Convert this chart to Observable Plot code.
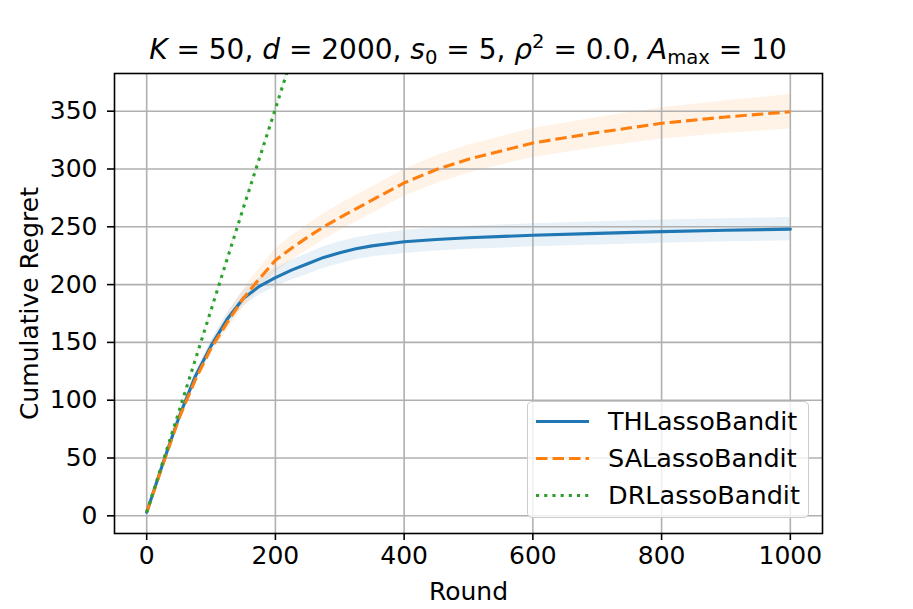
<!DOCTYPE html>
<html><head><meta charset="utf-8">
<script src="https://cdn.jsdelivr.net/npm/d3@7"></script>
<script src="https://cdn.jsdelivr.net/npm/@observablehq/plot@0.6"></script>
<style>
body{margin:0;background:#fff;font-family:"DejaVu Sans",sans-serif;color:#000;}
#wrap{position:relative;width:913px;height:609px;overflow:hidden;}
#title{position:absolute;left:114px;width:708px;top:36px;text-align:center;font-size:28px;line-height:28px;white-space:nowrap;}
#title sub{font-size:0.7em;vertical-align:-0.25em;line-height:0;}
#title sup{font-size:0.7em;vertical-align:0.55em;line-height:0;}
#legend{position:absolute;left:527px;top:401px;width:282px;height:117px;box-sizing:border-box;border:1.6px solid #cccccc;border-radius:5px;background:rgba(255,255,255,0.8);}
.row{position:absolute;left:0;height:37px;line-height:37px;font-size:25.5px;white-space:nowrap;}
.row svg{position:absolute;left:8px;top:0;}
.row span{position:absolute;left:80px;top:0;}
</style></head>
<body>
<div id="wrap">
<div id="chart"></div>
<div id="title"><i>K</i> = 50, <i>d</i> = 2000, <i>s</i><sub>0</sub> = 5, <i>ρ</i><sup>2</sup> = 0.0, <i>A</i><sub>max</sub> = 10</div>
<div id="legend"></div>
</div>
<script>
// ---- data ----
const rounds   = [0, 25, 50, 75, 100, 125, 150, 175, 200, 225, 250, 275, 300, 325, 350, 400, 450, 500, 600, 700, 800, 900, 1000];
const thMean   = [3, 45, 85, 120, 147, 170, 188, 198.5, 206, 212.5, 218, 223.5, 227.5, 231, 233.5, 237, 239, 240.5, 242.7, 244.3, 245.8, 247, 248];
const thSpread = [0.5, 1.5, 2.5, 3.5, 4.5, 5.5, 6.5, 7.5, 8, 8.5, 9, 9.3, 9.5, 9.5, 9.5, 10, 10, 10, 10, 10, 10, 10, 10];
const saMean   = [3, 44, 84, 117, 145, 167, 188, 205, 221, 231.5, 241, 250, 258, 265.5, 273, 288, 299.5, 308.5, 322.5, 331.5, 339.5, 345, 349.5];
const saSpread = [0.5, 2, 3, 4, 5, 6.5, 8, 9, 10, 10.5, 11, 11.3, 11.5, 11.5, 11.5, 11.5, 12, 12, 12.5, 13, 13.5, 14, 15];
const drRounds = [0, 50, 100, 150, 200, 250];
const drMean   = [3, 90, 178, 266, 352, 440];
const drSpread = [0.5, 1.5, 2, 2.5, 3, 3.5];
const seriesNames = ["THLassoBandit", "SALassoBandit", "DRLassoBandit"];
const seriesColors = ["#1f77b4", "#ff7f0e", "#2ca02c"];
const xTicks = [0, 200, 400, 600, 800, 1000];
const yTicks = [0, 50, 100, 150, 200, 250, 300, 350];

const th = rounds.map((r, i) => ({round: r, m: thMean[i], lo: thMean[i] - thSpread[i], hi: thMean[i] + thSpread[i]}));
const sa = rounds.map((r, i) => ({round: r, m: saMean[i], lo: saMean[i] - saSpread[i], hi: saMean[i] + saSpread[i]}));
const dr = drRounds.map((r, i) => ({round: r, m: drMean[i], lo: drMean[i] - drSpread[i], hi: drMean[i] + drSpread[i]}));

const lw = 3.1;
const dashes = [null, "11.5,5", "3.1,5.1"];
const grid = {stroke: "#b0b0b0", strokeOpacity: 1, strokeWidth: 1.6};

const chart = Plot.plot({
  width: 913, height: 609,
  marginLeft: 114, marginRight: 91, marginTop: 73, marginBottom: 76,
  style: {fontFamily: "DejaVu Sans", fontSize: "25px", color: "#000", background: "transparent"},
  x: {domain: [-50, 1050]},
  y: {domain: [-15.3, 382.6]},
  marks: [
    Plot.areaY(th, {x: "round", y1: "lo", y2: "hi", fill: seriesColors[0], fillOpacity: 0.1, clip: true}),
    Plot.areaY(sa, {x: "round", y1: "lo", y2: "hi", fill: seriesColors[1], fillOpacity: 0.1, clip: true}),
    Plot.areaY(dr, {x: "round", y1: "lo", y2: "hi", fill: seriesColors[2], fillOpacity: 0.1, clip: true}),
    Plot.gridX(xTicks, grid),
    Plot.gridY(yTicks, grid),
    Plot.lineY(th, {x: "round", y: "m", stroke: seriesColors[0], strokeWidth: lw, clip: true}),
    Plot.lineY(sa, {x: "round", y: "m", stroke: seriesColors[1], strokeWidth: lw, strokeDasharray: dashes[1], strokeLinecap: "butt", clip: true}),
    Plot.lineY(dr, {x: "round", y: "m", stroke: seriesColors[2], strokeWidth: lw, strokeDasharray: dashes[2], strokeLinecap: "butt", clip: true}),
    Plot.frame({stroke: "#000", strokeWidth: 1.6}),
    Plot.axisX(xTicks, {tickSize: 7, tickPadding: 6, strokeWidth: 1.6, fontSize: 25, tickFormat: d => String(d), label: "Round", labelAnchor: "center", labelArrow: "none", labelOffset: 66}),
    Plot.axisY(yTicks, {tickSize: 7, tickPadding: 10, strokeWidth: 1.6, fontSize: 25, tickFormat: d => String(d), label: "Cumulative Regret", labelAnchor: "center", labelArrow: "none", labelOffset: 94})
  ]
});
document.getElementById("chart").appendChild(chart);

// legend
const leg = document.getElementById("legend");
seriesNames.forEach((name, i) => {
  const row = document.createElement("div");
  row.className = "row";
  row.style.top = (0.5 + i * 37.2) + "px";
  row.style.width = "280px";
  const dash = dashes[i] ? `stroke-dasharray="${dashes[i]}"` : "";
  row.innerHTML = `<svg width="56" height="37"><line x1="0" x2="53" y1="18.5" y2="18.5" stroke="${seriesColors[i]}" stroke-width="${lw}" ${dash}/></svg><span>${name}</span>`;
  leg.appendChild(row);
});
</script>
</body></html>
